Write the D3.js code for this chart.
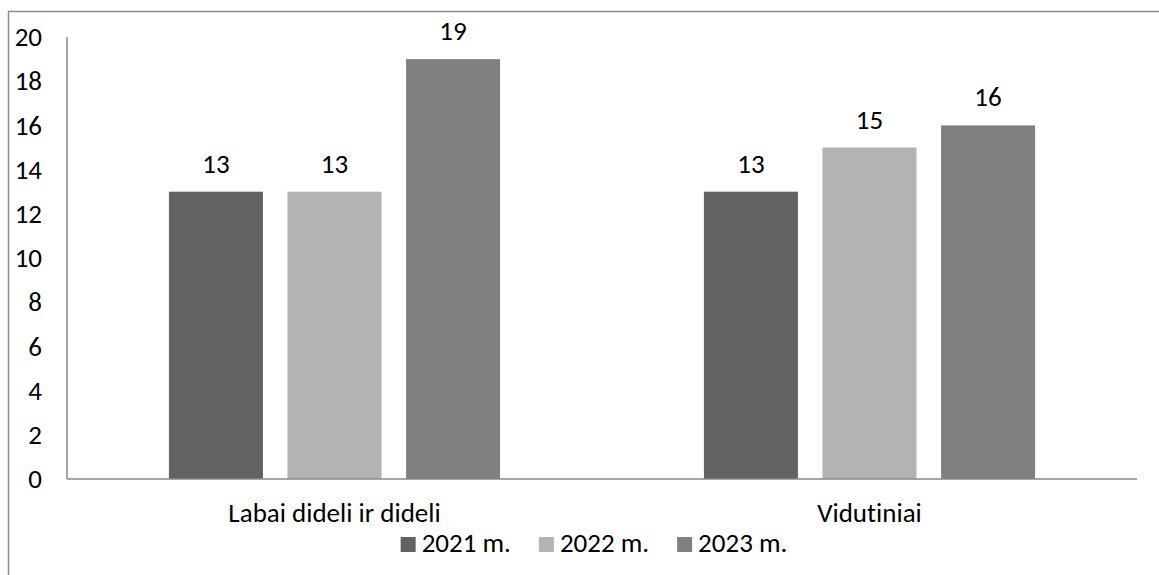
<!DOCTYPE html>
<html>
<head>
<meta charset="utf-8">
<script src="https://cdn.jsdelivr.net/npm/d3@7"></script>
<style>
    body { margin: 0; background: #fff; }
    svg { display: block; }
    text { font-family: Carlito, Lato, "Noto Sans", sans-serif; fill: #000; font-variant-ligatures: none; }
</style>
</head>
<body>
<svg id="chart"></svg>
<script>
// data
var categories = ["Labai dideli ir dideli", "Vidutiniai"];
var series = ["2021 m.", "2022 m.", "2023 m."];
var values2021 = [13, 13];
var values2022 = [13, 15];
var values2023 = [19, 16];
var yTicks = [0, 2, 4, 6, 8, 10, 12, 14, 16, 18, 20];
var colors = ["#626262", "#b3b3b3", "#808080"];

function render() {
    const width = 1159;
    const height = 575;
    const fontSize = 27;
    const plotLeft = 67, plotRight = 1137, plotTop = 37, plotBottom = 479;

    var allValues = [values2021, values2022, values2023];

    var svg = d3.select("#chart")
        .attr("width", width)
        .attr("height", height);

    svg.append("rect")
        .attr("width", width)
        .attr("height", height)
        .attr("fill", "#fff");

    // outer chart border (runs off the right and bottom edge)
    svg.append("rect")
        .attr("x", 8.5)
        .attr("y", 11.5)
        .attr("width", 1300)
        .attr("height", 700)
        .attr("fill", "none")
        .attr("stroke", "#8c8c8c")
        .attr("stroke-width", 1.5);

    var y = d3.scaleLinear()
        .domain([0, 20])
        .range([plotBottom, plotTop]);

    var x0 = d3.scaleBand()
        .domain(categories)
        .range([plotLeft, plotRight])
        .paddingInner(0.381)
        .paddingOuter(0.1905);

    var x1 = d3.scaleBand()
        .domain(series)
        .range([0, x0.bandwidth()])
        .paddingInner(0.207);

    // y axis: labels only, plus the vertical line
    var yAxis = d3.axisLeft(y)
        .tickValues(yTicks)
        .tickSize(0)
        .tickPadding(25);

    var yg = svg.append("g")
        .attr("transform", "translate(" + plotLeft + ",0)")
        .call(yAxis);
    yg.select(".domain").remove();
    yg.attr("font-family", null).attr("font-size", null);
    yg.selectAll("text")
        .attr("font-size", fontSize)
        .attr("fill", "#000");

    svg.append("line")
        .attr("x1", plotLeft)
        .attr("x2", plotLeft)
        .attr("y1", plotTop)
        .attr("y2", plotBottom)
        .attr("stroke", "#898989")
        .attr("stroke-width", 1.5);

    // bars
    var groups = svg.selectAll(".cat")
        .data(categories)
        .enter().append("g")
        .attr("class", "cat")
        .attr("transform", function (d) {
            return "translate(" + x0(d) + ",0)";
        });

    groups.each(function (cat, ci) {
        var g = d3.select(this);
        var rows = series.map(function (s, si) {
            return { s: s, v: allValues[si][ci], c: colors[si] };
        });

        g.selectAll("rect")
            .data(rows)
            .enter().append("rect")
            .attr("x", function (d) { return x1(d.s); })
            .attr("y", function (d) { return y(d.v); })
            .attr("width", x1.bandwidth())
            .attr("height", function (d) { return plotBottom - y(d.v); })
            .attr("fill", function (d) { return d.c; });

        g.selectAll(".val")
            .data(rows)
            .enter().append("text")
            .attr("class", "val")
            .attr("x", function (d) { return x1(d.s) + x1.bandwidth() / 2; })
            .attr("y", function (d) { return y(d.v) - 19; })
            .attr("text-anchor", "middle")
            .attr("font-size", fontSize)
            .text(function (d) { return d.v; });
    });

    // baseline
    svg.append("line")
        .attr("x1", plotLeft)
        .attr("x2", plotRight)
        .attr("y1", plotBottom)
        .attr("y2", plotBottom)
        .attr("stroke", "#898989")
        .attr("stroke-width", 1.5);

    // category labels
    svg.selectAll(".catlabel")
        .data(categories)
        .enter().append("text")
        .attr("class", "catlabel")
        .attr("x", function (d) { return x0(d) + x0.bandwidth() / 2; })
        .attr("y", 522)
        .attr("text-anchor", "middle")
        .attr("font-size", fontSize)
        .text(function (d) { return d; });

    // legend, centred under the chart
    var legend = svg.append("g");
    var lx = 0;
    series.forEach(function (s, i) {
        var item = legend.append("g").attr("transform", "translate(" + lx + ",0)");
        item.append("rect")
            .attr("x", 0)
            .attr("y", 537)
            .attr("width", 15)
            .attr("height", 15)
            .attr("fill", colors[i]);
        var t = item.append("text")
            .attr("x", 21)
            .attr("y", 552)
            .attr("font-size", fontSize)
            .text(s);
        lx += 21 + t.node().getComputedTextLength() + 28;
    });
    var legendW = lx - 28;
    legend.attr("transform", "translate(" + (594 - legendW / 2) + ",0)");
}

render();
</script>
</body>
</html>
